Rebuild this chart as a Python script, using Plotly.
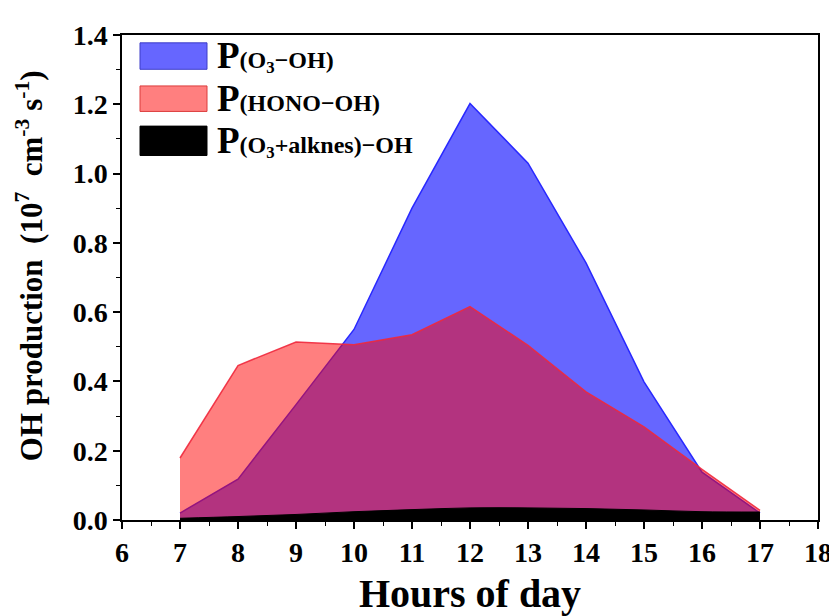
import plotly.graph_objects as go

hours = [7, 8, 9, 10, 11, 12, 13, 14, 15, 16, 17]
p_o3 = [0.02, 0.118, 0.333, 0.55, 0.90, 1.202, 1.03, 0.742, 0.399, 0.138, 0.02]
p_hono = [0.179, 0.446, 0.514, 0.506, 0.535, 0.616, 0.504, 0.37, 0.269, 0.146, 0.028]
p_alk = [0.005, 0.01, 0.016, 0.024, 0.03, 0.035, 0.035, 0.033, 0.029, 0.024, 0.023]

FONT = "Liberation Serif"
OFF = 8  # page body margin

fig = go.Figure()
fig.add_trace(go.Scatter(x=hours, y=p_o3, fill="tozeroy", mode="lines",
                         line=dict(color="rgba(40,40,255,1)", width=1.5),
                         fillcolor="rgba(0,0,255,0.6)", showlegend=False))
fig.add_trace(go.Scatter(x=hours, y=p_hono, fill="tozeroy", mode="lines",
                         line=dict(color="rgba(240,40,60,0.9)", width=1.5),
                         fillcolor="rgba(255,0,0,0.5)", showlegend=False))
fig.add_trace(go.Scatter(x=hours, y=p_alk, fill="tozeroy", mode="lines",
                         line=dict(color="black", width=1, shape="spline"),
                         fillcolor="black", showlegend=False))

axis_common = dict(showline=True, linecolor="black", linewidth=1.5, mirror=True,
                   ticks="outside", ticklen=7, tickwidth=1.5, tickcolor="black",
                   showgrid=False, zeroline=False,
                   tickfont=dict(family=FONT, size=28, color="black", weight="bold"))

fig.update_xaxes(range=[6, 18], dtick=1, tickmode="linear", tick0=6,
                 minor=dict(dtick=0.5, ticks="outside", ticklen=4, tickcolor="black", tickwidth=1.2),
                 title=dict(text="Hours of day",
                            font=dict(family=FONT, size=40, color="black", weight="bold"), standoff=12),
                 **axis_common)
fig.update_yaxes(range=[0, 1.4], dtick=0.2, tickmode="linear", tick0=0, tickformat=".1f",
                 minor=dict(dtick=0.1, ticks="outside", ticklen=4, tickcolor="black", tickwidth=1.2),
                 **axis_common)

L, R, T, B = 114, 27, 17, 104
W, H = 837 - L - R, 616 - T - B

def px(xp):
    return (xp - OFF - L) / W

def py(yp):
    return 1 - (yp - OFF - T) / H

# y-axis title
fig.add_annotation(xref="paper", yref="paper", x=px(29), y=py(261),
                   xanchor="center", yanchor="middle", textangle=-90, showarrow=False,
                   text="<b>OH production  (10<sup>7</sup>  cm<sup>-3</sup> s<sup>-1</sup>)</b>",
                   font=dict(family=FONT, size=31, color="black"))

legend_items = [
    ("rgba(0,0,255,0.6)", "rgba(60,60,200,1)",
     "<b>P<span style='font-size:24px'>(O<sub>3</sub>−OH)</span></b>"),
    ("rgba(255,0,0,0.5)", "rgba(220,60,60,1)",
     "<b>P<span style='font-size:24px'>(HONO−OH)</span></b>"),
    ("black", "black",
     "<b>P<span style='font-size:24px'>(O<sub>3</sub>+alknes)−OH</span></b>"),
]
rows = [(33, 60), (77, 103), (118, 148)]
for (fc, lc, txt), (y0, y1) in zip(legend_items, rows):
    fig.add_shape(type="rect", xref="paper", yref="paper",
                  x0=px(140), x1=px(207), y0=py(y1), y1=py(y0),
                  fillcolor=fc, line=dict(color=lc, width=1))
    fig.add_annotation(xref="paper", yref="paper", x=px(215), y=py((y0 + y1) / 2),
                       xanchor="left", yanchor="middle", showarrow=False, text=txt,
                       font=dict(family=FONT, size=37, color="black"))

fig.update_layout(width=837, height=616, margin=dict(l=L, r=R, t=T, b=B),
                  plot_bgcolor="white", paper_bgcolor="white", showlegend=False)

fig.write_html("out.html")
